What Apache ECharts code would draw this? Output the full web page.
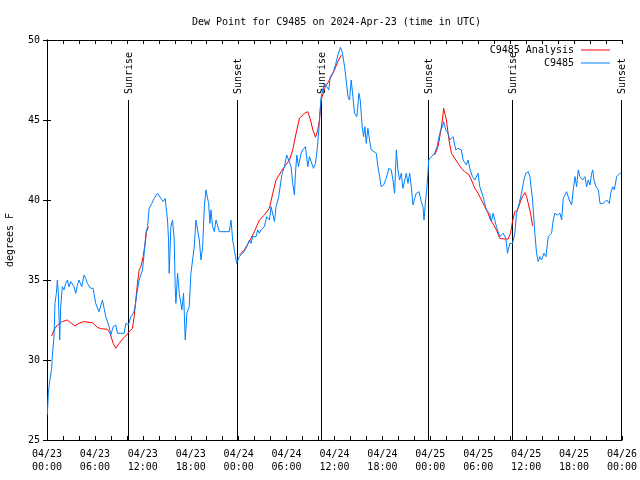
<!DOCTYPE html>
<html>
<head>
<meta charset="utf-8">
<script src="https://cdn.jsdelivr.net/npm/echarts@6/dist/echarts.min.js"></script>
<style>
html,body{margin:0;padding:0;background:#fff;}
#chart{width:640px;height:480px;}
</style>
</head>
<body>
<div id="chart"></div>
<script>
// ---- Data (hours since 2024-04-23 00:00 UTC, dew point °F) ----
const titleText = 'Dew Point for C9485 on 2024-Apr-23 (time in UTC)';
const yAxisName = 'degrees F';
const seriesNames = ['C9485 Analysis', 'C9485'];

const obsHours = [0.04,0.17,0.33,0.59,0.67,0.88,1.0,1.17,1.30,1.42,1.59,1.71,1.92,2.13,2.34,2.55,2.76,2.97,3.18,3.39,3.60,3.81,4.01,4.35,4.64,4.85,5.06,5.48,5.77,6.10,6.52,6.73,6.94,7.15,7.36,7.78,7.99,8.28,8.61,8.82,9.24,9.66,9.87,10.2,10.5,10.83,11.04,11.25,11.54,11.96,12.17,12.38,12.59,12.79,13.13,13.42,13.84,14.26,14.55,14.80,15.09,15.22,15.30,15.51,15.72,15.93,16.05,16.14,16.35,16.56,16.89,17.10,17.31,17.52,17.81,18.02,18.23,18.44,18.65,18.86,19.07,19.28,19.49,19.70,19.90,20.11,20.24,20.40,20.53,20.74,20.95,21.16,21.58,22.83,23.04,23.25,23.46,23.75,
24.08,24.50,24.92,25.34,25.55,25.76,26.18,26.38,26.59,26.80,27.22,27.51,27.85,28.06,28.27,28.48,28.68,29.02,29.19,29.44,29.73,30.02,30.27,30.56,30.77,30.98,31.11,31.28,31.49,31.82,32.03,32.36,32.66,32.86,33.07,33.37,33.62,33.83,34.04,34.20,34.33,34.54,34.75,35.04,35.29,35.46,35.79,36.13,36.42,36.75,36.96,37.26,37.46,37.68,37.88,38.09,38.30,38.51,38.80,39.06,39.22,39.47,39.64,39.81,39.97,40.18,40.39,40.60,40.81,41.23,41.44,41.65,41.85,42.15,42.48,42.81,43.11,43.32,43.53,43.74,43.94,44.15,44.36,44.57,44.78,44.99,45.20,45.41,45.62,45.83,46.04,46.24,46.58,46.87,47.08,47.21,47.41,47.58,47.75,
47.79,48.13,48.54,48.84,49.09,49.30,49.51,49.67,49.93,50.22,50.43,50.85,51.18,51.47,51.89,52.10,52.52,52.73,52.94,53.27,53.57,53.98,54.19,54.61,55.02,55.44,55.65,55.86,56.28,56.70,57.12,57.45,57.66,57.95,58.29,58.58,58.79,59.12,59.42,59.71,59.96,60.26,60.47,60.80,61.09,61.30,61.51,61.72,61.93,62.22,62.47,62.77,63.18,63.39,63.60,63.89,64.23,64.44,64.64,65.06,65.40,65.69,65.90,66.11,66.32,66.52,66.73,67.07,67.36,67.57,67.78,67.99,68.20,68.33,68.49,68.74,69.04,69.24,69.66,70.08,70.42,70.58,70.84,71.04,71.33,71.75,71.87];
const obsDewF = [26.56,27.92,28.65,29.48,30.31,31.46,33.54,34.17,35.0,34.17,31.25,33.33,34.58,34.38,34.79,35.0,34.58,34.9,35.0,34.58,34.17,34.7,35.0,34.58,35.31,35.1,34.79,34.48,34.48,33.54,33.02,33.02,33.75,33.23,32.71,32.08,31.56,32.08,32.19,31.67,31.67,31.67,32.29,32.19,32.71,32.92,33.33,34.17,35.0,35.63,36.67,37.92,38.33,39.48,39.79,40.10,40.42,40.10,39.9,40.10,38.75,37.5,35.42,38.33,38.75,37.5,34.58,33.54,35.42,34.17,33.13,34.17,31.25,32.92,33.33,35.42,36.25,37.08,38.75,38.85,37.5,36.25,37.08,39.58,40.63,40.52,39.79,38.54,39.38,38.33,38.02,38.75,38.02,38.02,38.75,37.5,36.88,36.04,
36.46,36.67,36.98,37.5,37.29,37.71,37.71,38.13,37.92,38.13,38.33,38.96,38.75,39.58,39.58,38.65,39.58,40.21,40.83,41.67,42.08,42.81,42.71,42.08,41.04,40.31,41.67,42.81,42.08,42.92,43.13,43.33,42.08,42.71,42.81,41.98,42.29,43.13,44.38,45.63,46.46,46.88,47.29,47.08,46.88,47.71,47.92,48.44,49.06,49.54,49.27,48.33,47.5,46.46,46.25,47.5,46.46,45.42,45.21,46.67,46.25,44.58,43.96,44.58,43.54,44.48,43.75,43.13,43.23,42.92,42.08,41.46,40.83,40.94,41.35,41.98,41.88,41.25,40.42,43.13,41.88,41.25,41.67,40.73,40.63,41.67,41.04,41.67,40.83,39.69,40.10,40.42,40.52,39.9,39.58,38.75,40.0,40.83,42.08,
42.5,42.71,42.92,43.33,43.96,44.38,44.58,44.9,44.38,44.17,43.75,43.96,43.13,43.23,43.13,42.5,42.19,42.5,41.98,41.46,41.25,41.67,40.83,40.21,39.38,39.17,38.65,39.17,38.33,37.71,37.92,37.6,36.67,37.29,37.29,37.92,39.17,39.79,40.42,41.25,41.67,41.77,41.46,40.0,37.92,36.67,36.15,36.46,36.25,36.67,36.46,37.71,37.92,38.75,39.17,39.06,39.17,38.75,40.10,40.52,40.0,39.69,40.63,41.46,40.83,41.88,41.46,41.25,41.46,40.83,41.25,40.94,41.67,41.88,41.25,40.83,40.63,39.79,39.79,40.0,39.79,40.42,40.83,40.63,41.46,41.67,41.67];

const anaHours = [0.59,0.88,1.30,1.92,2.55,2.97,3.51,4.01,4.64,5.69,6.31,6.73,7.57,7.90,8.28,8.61,9.03,9.53,9.95,10.29,10.70,10.91,11.12,11.33,11.54,11.75,12.04,12.29,12.46,12.71,
13.0,
24.08,24.71,25.34,25.97,26.59,27.22,27.85,28.27,28.68,29.31,29.73,30.36,30.77,31.19,31.61,32.24,32.66,32.99,33.29,33.62,33.91,34.12,34.33,34.75,35.37,36.0,36.42,36.84,
37.0,
48.54,48.75,48.96,49.26,49.51,49.67,49.80,50.01,50.34,50.64,51.06,51.47,51.89,52.31,52.85,53.15,53.57,53.98,54.40,54.82,55.23,55.53,55.95,56.37,56.70,57.33,57.75,58.04,58.29,58.58,58.92,59.21,59.54,59.84,60.05,60.26,60.55,60.80];
const anaDewF = [31.5,31.88,32.19,32.4,32.5,32.33,32.13,32.29,32.4,32.33,32.04,31.96,31.92,31.67,31.04,30.73,31.04,31.35,31.56,31.77,31.98,32.71,33.75,34.79,35.63,35.83,36.46,37.29,38.02,38.33,
null,
36.56,36.88,37.4,38.02,38.75,39.06,39.48,40.42,41.25,41.77,42.08,42.5,43.13,44.17,45.1,45.42,45.52,45.0,44.38,43.92,44.38,45.0,46.25,46.98,47.5,48.13,48.65,49.06,
null,
42.81,42.81,43.33,44.17,45.0,45.73,45.73,45.0,43.75,42.92,42.6,42.29,41.98,41.77,41.56,41.25,40.73,40.42,40.0,39.58,39.17,38.75,38.44,38.02,37.6,37.56,37.56,37.92,38.65,39.27,39.38,39.79,40.21,40.46,40.21,39.79,39.17,38.38];

const sunHours = [10.2, 23.75, 34.25, 47.7, 58.25, 71.83];
const sunLabels = ['Sunrise','Sunset','Sunrise','Sunset','Sunrise','Sunset'];
const sunLineTop = 46.25;

const xMin = 0, xMax = 72, xStep = 6;
const yMin = 25, yMax = 50, yStep = 5;
const dayLabels = ['04/23','04/24','04/25','04/26'];

// ---- Build ----
const FONT = 'DejaVu Sans Mono';
const RED = '#ff0000', BLUE = '#0080ff';
const obsData = obsHours.map((h, i) => [h, obsDewF[i]]);
const anaData = anaHours.map((h, i) => [h, anaDewF[i] === null ? '-' : anaDewF[i]]);
const sunData = sunHours.map((h, i) => [h, sunLineTop, i]);

function fmtX(v) {
  const d = Math.floor(v / 24);
  const hh = Math.round(v - d * 24);
  return dayLabels[d] + '\n' + (hh < 10 ? '0' : '') + hh + ':00';
}

const axisLineStyle = { lineStyle: { color: '#000', width: 1 } };
const legendBase = { right: 30, align: 'right', itemWidth: 29, itemHeight: 1, icon: 'rect', padding: 0,
  textStyle: { fontFamily: FONT, fontSize: 10, color: '#000', padding: [0, 2, 0, 0] } };
const chart = echarts.init(document.getElementById('chart'), null, { renderer: 'canvas' });
chart.setOption({
  animation: false,
  backgroundColor: '#fff',
  textStyle: { fontFamily: FONT, fontSize: 10, color: '#000' },
  title: {
    text: titleText, left: 187, top: 12,
    textStyle: { fontFamily: FONT, fontSize: 10, fontWeight: 'normal', color: '#000' }
  },
  legend: [
    Object.assign({ data: [seriesNames[0]], top: 45 }, legendBase),
    Object.assign({ data: [seriesNames[1]], top: 58 }, legendBase)
  ],
  grid: { left: 47, right: 18, top: 40, bottom: 40, containLabel: false, outerBoundsMode: 'none' },
  xAxis: [
    { type: 'value', min: xMin, max: xMax, interval: xStep, position: 'bottom',
      axisLine: axisLineStyle, splitLine: { show: false },
      axisTick: { inside: true, length: 4, lineStyle: { color: '#000' } },
      minorTick: { show: true, splitNumber: 3, length: 4, lineStyle: { color: '#000' } },
      axisLabel: { formatter: fmtX, fontFamily: FONT, fontSize: 10, color: '#000', lineHeight: 13, margin: 8,
        showMinLabel: true, showMaxLabel: true, hideOverlap: false } },
    { type: 'value', min: xMin, max: xMax, interval: xStep, position: 'top',
      axisLine: axisLineStyle, splitLine: { show: false },
      axisTick: { inside: true, length: 4, lineStyle: { color: '#000' } },
      minorTick: { show: true, splitNumber: 3, length: 4, lineStyle: { color: '#000' } },
      axisLabel: { show: false } }
  ],
  yAxis: [
    { type: 'value', min: yMin, max: yMax, interval: yStep, position: 'left',
      name: yAxisName, nameLocation: 'middle', nameGap: 32, nameRotate: 90,
      nameTextStyle: { fontFamily: FONT, fontSize: 10, color: '#000' },
      axisLine: { show: true, lineStyle: { color: '#000', width: 1 } }, splitLine: { show: false },
      axisTick: { inside: true, length: 4, lineStyle: { color: '#000' } },
      axisLabel: { fontFamily: FONT, fontSize: 10, color: '#000', margin: 7 } },
    { type: 'value', min: yMin, max: yMax, interval: yStep, position: 'right',
      axisLine: { show: true, lineStyle: { color: '#000', width: 1 } }, splitLine: { show: false },
      axisTick: { inside: true, length: 4, lineStyle: { color: '#000' } },
      axisLabel: { show: false } }
  ],
  series: [
    { name: 'sun', type: 'custom', xAxisIndex: 0, yAxisIndex: 0, data: sunData, silent: true, z: 1,
      renderItem: function (params, api) {
        const idx = api.value(2);
        const p0 = api.coord([api.value(0), yMin]);
        const p1 = api.coord([api.value(0), api.value(1)]);
        const x = Math.round(p0[0]) + 0.5;
        return { type: 'group', children: [
          { type: 'line', shape: { x1: x, y1: p0[1], x2: x, y2: p1[1] },
            style: { stroke: '#000', lineWidth: 1 } },
          { type: 'text', x: x + 1, y: p1[1] - 6, rotation: Math.PI / 2,
            style: { text: sunLabels[idx], font: '10px "' + FONT + '"', fill: '#000',
              align: 'left', verticalAlign: 'middle' } }
        ] };
      } },
    { name: seriesNames[0], type: 'line', data: anaData, symbol: 'none', connectNulls: false, z: 2,
      lineStyle: { color: RED, width: 1 }, itemStyle: { color: RED } },
    { name: seriesNames[1], type: 'line', data: obsData, symbol: 'none', z: 3,
      lineStyle: { color: BLUE, width: 1 }, itemStyle: { color: BLUE } }
  ]
});
</script>
</body>
</html>
